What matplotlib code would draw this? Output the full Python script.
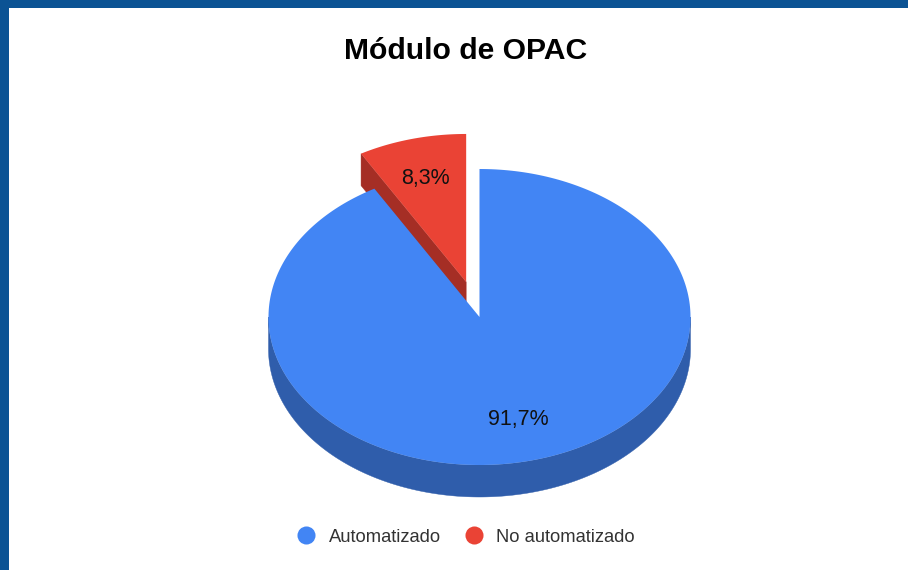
import numpy as np
import matplotlib
matplotlib.use("Agg")
import matplotlib.pyplot as plt
from matplotlib.patches import Polygon, Rectangle
from matplotlib.lines import Line2D

plt.rcParams['font.family'] = ['Liberation Sans', 'DejaVu Sans']

title = "Módulo de OPAC"
categories = ["Automatizado", "No automatizado"]
values = [91.7, 8.3]
labels = ["91,7%", "8,3%"]
colors = ["#4285f4", "#ea4335"]
side_colors = ["#2f5dab", "#a52e25"]
border_color = "#0b5394"

W, H = 908, 570
fig = plt.figure(figsize=(W / 100, H / 100), dpi=100)
ax = fig.add_axes([0, 0, 1, 1])
ax.set_xlim(0, W)
ax.set_ylim(H, 0)
ax.axis("off")

# frame
ax.add_patch(Rectangle((0, 0), W, 8, fc=border_color, ec="none"))
ax.add_patch(Rectangle((0, 0), 9, H, fc=border_color, ec="none"))

cx, cy, rx, ry, depth = 479.5, 317.0, 211.0, 148.0, 32.0
explode = 0.245


def pt(theta, r=1.0, ox=0.0, oy=0.0):
    return (cx + ox + r * rx * np.sin(theta), cy + oy - r * ry * np.cos(theta))


total = sum(values)
start_blue = 0.0
end_blue = 2 * np.pi * values[0] / total
start_red = end_blue
end_red = 2 * np.pi
mid_blue = (start_blue + end_blue) / 2
mid_red = (start_red + end_red) / 2

ox = explode * rx * np.sin(mid_red)
oy = -explode * ry * np.cos(mid_red)


def arc(a, b, ox=0.0, oy=0.0):
    t = np.linspace(a, b, 300)
    return np.column_stack([cx + ox + rx * np.sin(t), cy + oy - ry * np.cos(t)])


# exploded slice: side wall then top
apex = np.array(pt(0, 0, ox, oy))
corner = np.array(pt(start_red, 1, ox, oy))
shift = np.array([0, depth])
ax.add_patch(Polygon([apex, corner, corner + shift, apex + shift],
                     fc=side_colors[1], ec=side_colors[1], lw=0.3, zorder=2))
ax.add_patch(Polygon(np.vstack([[apex], arc(start_red, end_red, ox, oy)]),
                     fc=colors[1], ec="none", zorder=3))

# main slice: rim then top
rim = arc(np.pi / 2, 3 * np.pi / 2)
ax.add_patch(Polygon(np.vstack([rim, (rim + shift)[::-1]]),
                     fc=side_colors[0], ec=side_colors[0], lw=0.3, zorder=4))
ax.add_patch(Polygon(np.vstack([[pt(0, 0)], arc(start_blue, end_blue)]),
                     fc=colors[0], ec="none", zorder=5))

# value labels
lab_r = 0.705
bx, by = pt(mid_blue, lab_r)
rx_, ry_ = pt(mid_red, lab_r, ox, oy)
ax.text(bx + 0.5, by + 2, labels[0], ha="center", va="center", fontsize=15.5, color="#111111", zorder=6)
ax.text(rx_ - 2, ry_ - 2.5, labels[1], ha="center", va="center", fontsize=15.5, color="#111111", zorder=6)

ax.text(466, 51, title, ha="center", va="center", fontsize=21.7, fontweight="bold", color="#000000")

handles = [Line2D([], [], ls="none", marker="o", ms=13, mfc=c, mec="none") for c in colors]
leg = ax.legend(handles, categories, loc="center", bbox_to_anchor=(466, 537),
                bbox_transform=ax.transData, ncol=2, frameon=False, fontsize=13.2,
                labelcolor="#333333", handletextpad=0.72, columnspacing=1.3, handlelength=1.0,
                borderpad=0, borderaxespad=0)

fig.savefig("out.png", dpi=100)
